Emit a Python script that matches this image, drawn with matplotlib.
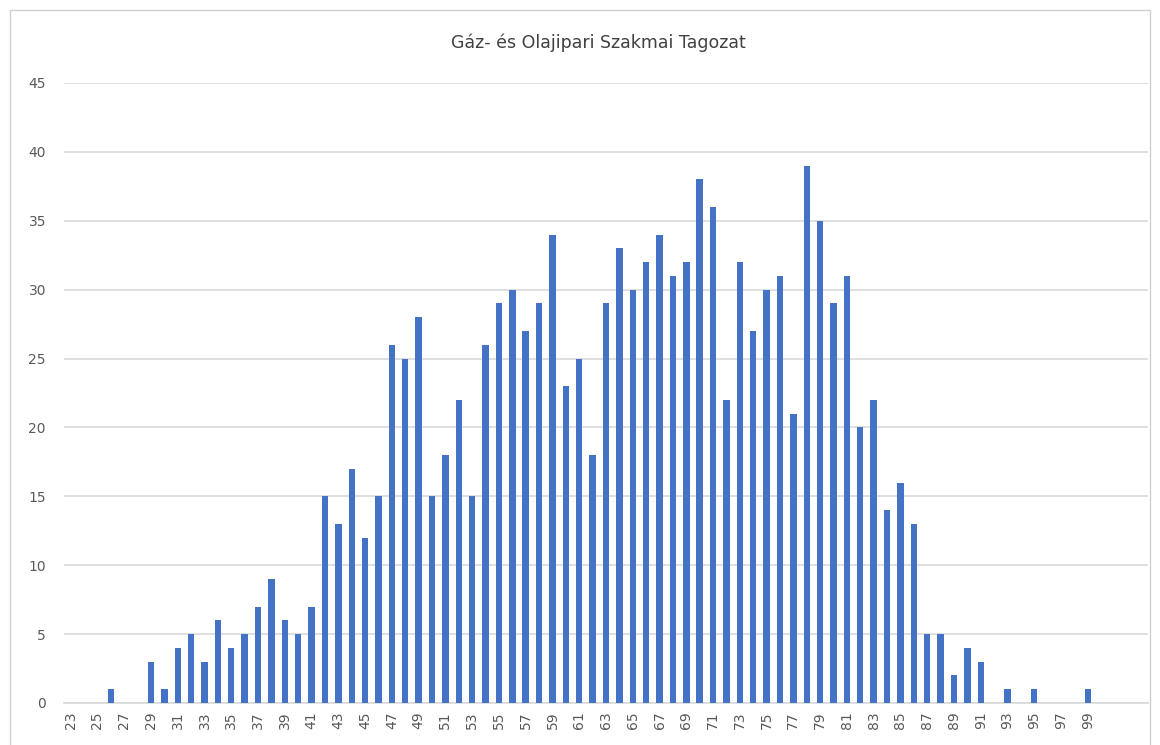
import matplotlib
matplotlib.use("Agg")
import matplotlib.pyplot as plt
import numpy as np
from matplotlib.patches import Rectangle

# score categories (23..99) and counts per score
scores = list(range(23, 100))
counts = [0, 0, 0, 1, 0, 0, 3, 1, 4, 5,
          3, 6, 4, 5, 7, 9, 6, 5, 7, 15,
          13, 17, 12, 15, 26, 25, 28, 15, 18, 22,
          15, 26, 29, 30, 27, 29, 34, 23, 25, 18,
          29, 33, 30, 32, 34, 31, 32, 38, 36, 22,
          32, 27, 30, 31, 21, 39, 35, 29, 31, 20,
          22, 14, 16, 13, 5, 5, 2, 4, 3, 0,
          1, 0, 1, 0, 0, 0, 1]
# empty trailing categories in the source sheet
n_blank = 4
title = "Gáz- és Olajipari Szakmai Tagozat"

plt.rcParams['font.family'] = ['DejaVu Sans']
txt_col = '#595959'
grid_col = '#d9d9d9'

fig = plt.figure(figsize=(11.6, 7.45), dpi=100)
ax = fig.add_axes([64/1160, 1 - 703/745, (1148-64)/1160, (703-83)/745])

labels = [str(s) for s in scores] + [''] * n_blank
x = np.arange(len(labels))
ax.bar(x[:len(counts)], counts, width=0.48, color='#4472c4', zorder=3)

ax.set_xlim(-0.5, len(labels) - 0.5)
ax.set_ylim(0, 45)
ax.set_yticks(range(0, 46, 5))
ax.set_xticks(x[::2])
ax.set_xticklabels(labels[::2], rotation=90)
ax.tick_params(axis='both', length=0, colors=txt_col, labelsize=10)
ax.tick_params(axis='y', pad=13)
ax.tick_params(axis='x', pad=6)
ax.yaxis.grid(True, color=grid_col, linewidth=1.2, zorder=0)
for s in ['top', 'right', 'left']:
    ax.spines[s].set_visible(False)
ax.spines['bottom'].set_color(grid_col)
ax.spines['bottom'].set_linewidth(1.2)

fig.text(598/1160, 1 - 43/745, title, ha='center', va='center',
         fontsize=12.5, color='#404040')

# outer chart border
fig.patches.append(Rectangle((10/1160, -0.01), 1140/1160, 1 - 10/745 + 0.01,
                             transform=fig.transFigure, fill=False,
                             edgecolor='#d0d0d0', linewidth=1))

fig.savefig('out.png', dpi=100)
